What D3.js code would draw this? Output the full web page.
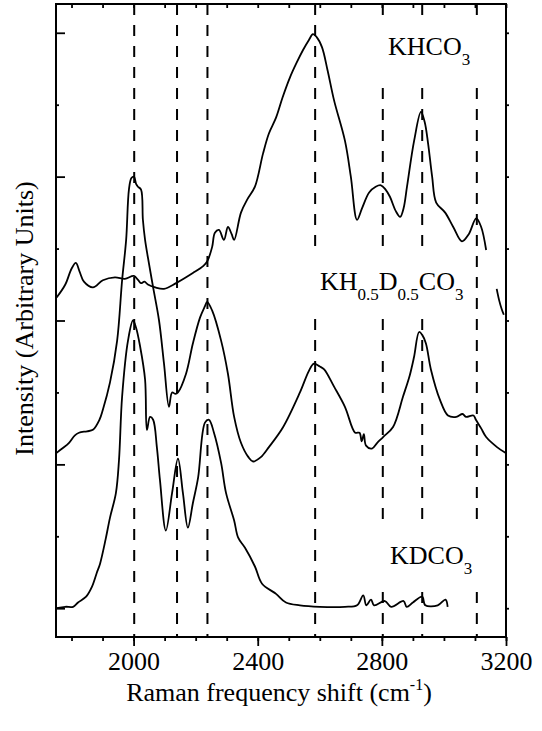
<!DOCTYPE html>
<html>
<head>
<meta charset="utf-8">
<script src="https://cdn.jsdelivr.net/npm/d3@7"></script>
<style>
  body { margin: 0; background: #fff; }
  svg text { font-family: "Liberation Serif", "Times New Roman", serif; fill: #000; }
</style>
</head>
<body>
<script>
// peak positions marked with dashed lines (cm-1)
var peakLines = [2002, 2140, 2238, 2585, 2803, 2930, 3106];
var xMajorTicks = [2000, 2400, 2800, 3200];
var xMinorTicks = d3.range(1800, 3201, 100);
var yMajorTicks = [0, 1, 2, 3, 4];
var yMinorTicks = [0.5, 1.5, 2.5, 3.5];

// spectra, [shift, intensity]
var khco3 = [
  [1752,2.16],[1780,2.25],[1800,2.36],[1814,2.40],[1826,2.34],[1840,2.27],[1869,2.23],[1901,2.28],
  [1940,2.30],[1972,2.29],[2001,2.31],[2015,2.28],[2024,2.26],[2035,2.27],[2046,2.25],[2070,2.23],
  [2098,2.22],[2137,2.26],[2191,2.33],[2225,2.38],[2237,2.41],[2253,2.51],[2262,2.61],[2275,2.63],
  [2291,2.56],[2304,2.65],[2316,2.60],[2324,2.56],[2346,2.75],[2366,2.84],[2391,2.93],[2417,3.16],
  [2436,3.30],[2459,3.41],[2480,3.55],[2504,3.69],[2525,3.79],[2546,3.88],[2565,3.95],[2578,3.99],
  [2590,3.97],[2607,3.90],[2625,3.74],[2646,3.53],[2681,3.25],[2700,3.00],[2720,2.70],[2736,2.78],
  [2759,2.89],[2780,2.93],[2797,2.94],[2812,2.91],[2826,2.86],[2845,2.76],[2859,2.72],[2870,2.78],
  [2881,2.93],[2904,3.25],[2926,3.45],[2938,3.38],[2949,3.23],[2962,3.00],[2975,2.82],[3004,2.75],
  [3030,2.65],[3058,2.55],[3080,2.60],[3104,2.71],[3120,2.65],[3136,2.49],null,
  [3170,2.22],[3178,2.14],[3186,2.08],[3193,2.04]
];
var khdco3 = [
  [1752,1.08],[1770,1.11],[1792,1.15],[1810,1.20],[1824,1.22],[1850,1.23],[1869,1.24],[1890,1.31],
  [1901,1.38],[1924,1.57],[1947,1.86],[1963,2.28],[1976,2.56],[1985,2.91],[1993,2.99],[2001,3.00],
  [2008,2.95],[2014,2.93],[2024,2.91],[2030,2.70],[2037,2.56],[2046,2.44],[2063,2.23],[2082,2.00],
  [2098,1.70],[2114,1.40],[2124,1.50],[2135,1.49],[2143,1.50],[2169,1.63],[2191,1.84],[2214,2.02],
  [2230,2.10],[2237,2.13],[2253,2.07],[2282,1.86],[2304,1.63],[2324,1.33],[2346,1.15],[2370,1.05],
  [2385,1.02],[2410,1.05],[2436,1.12],[2482,1.26],[2536,1.50],[2565,1.65],[2581,1.70],[2600,1.68],
  [2614,1.66],[2646,1.54],[2681,1.40],[2714,1.22],[2728,1.22],[2735,1.16],[2742,1.21],[2749,1.13],
  [2768,1.11],[2785,1.15],[2804,1.19],[2836,1.26],[2868,1.47],[2890,1.62],[2904,1.75],[2920,1.92],
  [2930,1.90],[2942,1.84],[2958,1.66],[2987,1.45],[3013,1.34],[3040,1.33],[3060,1.35],[3071,1.33],
  [3095,1.34],[3103,1.31],[3120,1.25],[3136,1.19],[3171,1.12],[3198,1.08]
];
var kdco3 = [
  [1752,0.00],[1780,0.01],[1805,0.01],[1821,0.04],[1847,0.08],[1866,0.15],[1882,0.25],[1892,0.31],
  [1910,0.48],[1924,0.63],[1943,0.80],[1953,1.03],[1963,1.47],[1982,1.86],[1998,2.00],[2008,1.95],
  [2021,1.82],[2037,1.59],[2043,1.24],[2053,1.33],[2063,1.31],[2075,1.12],[2085,0.89],[2104,0.54],
  [2124,0.80],[2143,1.04],[2159,0.80],[2175,0.56],[2191,0.73],[2208,0.91],[2230,1.29],[2243,1.31],
  [2259,1.22],[2282,1.01],[2298,0.80],[2324,0.61],[2337,0.49],[2359,0.42],[2391,0.29],[2414,0.17],
  [2459,0.10],[2491,0.04],[2536,0.02],[2600,0.01],[2681,0.01],[2720,0.02],[2740,0.09],[2750,0.02],
  [2765,0.06],[2775,0.02],[2810,0.05],[2830,0.01],[2870,0.05],[2880,0.01],[2900,0.04],[2930,0.08],
  [2940,0.02],[2980,0.02],[3005,0.06],[3012,0.01]
];

// sample labels: [text, subscript?]
var labelKH = [['KHCO', false], ['3', true]];
var labelKHD = [['KH', false], ['0.5', true], ['D', false], ['0.5', true], ['CO', false], ['3', true]];
var labelKD = [['KDCO', false], ['3', true]];

var width = 542,
  height = 731,
  padL = 56, padR = 506, padT = 4, padB = 637,
  svg = d3.select('body').append('svg')
    .attr('width', width)
    .attr('height', height);

var x = d3.scaleLinear().domain([1750, 3200]).range([padL, padR]);
var y = d3.scaleLinear().domain([-0.2, 4.2]).range([padB, padT]);

// dashed marker lines
svg.selectAll('.peak')
  .data(peakLines)
  .enter()
  .append('line')
  .attr('class', 'peak')
  .attr('x1', function (d) { return x(d); })
  .attr('x2', function (d) { return x(d); })
  .attr('y1', padT)
  .attr('y2', padB)
  .attr('stroke', '#000')
  .attr('stroke-width', 2)
  .attr('stroke-dasharray', '11,10');

// labels with a white backing box (hides the dashed lines behind them)
function addLabel(parts, lx, ly) {
  var g = svg.append('g');
  var box = g.append('rect').attr('fill', '#fff');
  var t = g.append('text').attr('x', lx).attr('y', ly);
  var sub = false;
  parts.forEach(function (p) {
    var dy = 0;
    if (p[1] && !sub) dy = 10;
    if (!p[1] && sub) dy = -10;
    sub = p[1];
    t.append('tspan')
      .attr('dy', dy)
      .style('font-size', p[1] ? '17px' : '26px')
      .text(p[0]);
  });
  var bb = t.node().getBBox();
  box.attr('x', bb.x - 9).attr('y', bb.y - 14)
    .attr('width', bb.width + 18).attr('height', bb.height + 26);
}
addLabel(labelKH, 388, 55);
addLabel(labelKHD, 320, 290);
addLabel(labelKD, 390, 564);

// spectra
var line = d3.line()
  .defined(function (d) { return d != null; })
  .x(function (d) { return x(d[0]); })
  .y(function (d) { return y(d[1]); })
  .curve(d3.curveCatmullRom.alpha(0.5));

svg.selectAll('.spec')
  .data([khco3, khdco3, kdco3])
  .enter()
  .append('path')
  .attr('class', 'spec')
  .attr('d', line)
  .attr('fill', 'none')
  .attr('stroke', '#000')
  .attr('stroke-width', 1.8)
  .attr('stroke-linejoin', 'round');

// axes
function axisStyle(g) {
  g.select('.domain').remove();
  g.selectAll('line').attr('stroke', '#000').attr('stroke-width', 1.8);
}

svg.append('g')
  .attr('transform', 'translate(0,' + padB + ')')
  .call(d3.axisBottom(x).tickValues(xMinorTicks).tickSize(4).tickFormat(''))
  .call(axisStyle);

var xb = svg.append('g')
  .attr('transform', 'translate(0,' + padB + ')')
  .call(d3.axisBottom(x).tickValues(xMajorTicks).tickSize(9).tickFormat(d3.format('d')))
  .call(axisStyle);
xb.selectAll('text')
  .attr('y', 33)
  .attr('dy', 0)
  .style('font-size', '26px')
  .style('font-family', '"Liberation Serif", "Times New Roman", serif');

svg.append('g')
  .attr('transform', 'translate(0,' + padT + ')')
  .call(d3.axisTop(x).tickValues(xMinorTicks).tickSize(-4).tickFormat(''))
  .call(axisStyle);

svg.append('g')
  .attr('transform', 'translate(' + padL + ',0)')
  .call(d3.axisLeft(y).tickValues(yMajorTicks).tickSize(-9).tickFormat(''))
  .call(axisStyle);

svg.append('g')
  .attr('transform', 'translate(' + padL + ',0)')
  .call(d3.axisLeft(y).tickValues(yMinorTicks).tickSize(-3).tickFormat(''))
  .call(axisStyle);

svg.append('g')
  .attr('transform', 'translate(' + padR + ',0)')
  .call(d3.axisRight(y).tickValues(yMajorTicks.concat(yMinorTicks)).tickSize(3).tickFormat(''))
  .call(axisStyle);

svg.append('rect')
  .attr('x', padL)
  .attr('y', padT)
  .attr('width', padR - padL)
  .attr('height', padB - padT)
  .attr('fill', 'none')
  .attr('stroke', '#000')
  .attr('stroke-width', 2);

// axis titles
var xt = svg.append('text')
  .attr('x', 279)
  .attr('y', 701)
  .attr('text-anchor', 'middle')
  .style('font-size', '26px');
xt.append('tspan').text('Raman frequency shift (cm');
xt.append('tspan').attr('dy', -11).style('font-size', '16px').text('-1');
xt.append('tspan').attr('dy', 11).text(')');

svg.append('text')
  .attr('transform', 'translate(33,' + (y(2) - 2) + ') rotate(-90)')
  .attr('text-anchor', 'middle')
  .style('font-size', '26px')
  .text('Intensity (Arbitrary Units)');
</script>
</body>
</html>
